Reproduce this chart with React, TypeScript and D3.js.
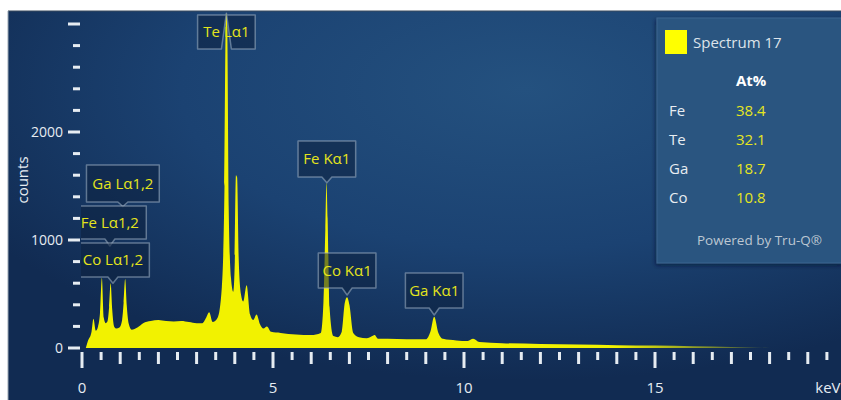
import React from "react";
import * as d3 from "d3";

// Spectrum samples: energy (keV) and detector counts
const energyKeV = [
  0.1, 0.15, 0.25, 0.3, 0.36, 0.42, 0.47, 0.52, 0.57, 0.62, 0.67, 0.71, 0.75, 0.79, 0.84, 0.9, 0.98,
  1.05, 1.09, 1.13, 1.17, 1.22, 1.3, 1.45, 1.6, 1.8, 2.0, 2.2, 2.4, 2.6, 2.8, 3.0, 3.15, 3.25,
  3.33, 3.42, 3.55, 3.66, 3.73, 3.77, 3.8, 3.84, 3.9, 3.96, 4.0, 4.03, 4.06, 4.1, 4.16, 4.22,
  4.31, 4.4, 4.48, 4.57, 4.66, 4.75, 4.84, 4.95, 5.2, 5.6, 6.0, 6.25, 6.32, 6.37, 6.4, 6.43,
  6.48, 6.58, 6.7, 6.8, 6.88, 6.94, 7.0, 7.1, 7.25, 7.45, 7.6, 7.66, 7.75, 8.0, 8.5, 9.0, 9.12,
  9.22, 9.33, 9.45, 9.8, 10.1, 10.24, 10.4, 11.0, 12.0, 13.0, 14.0, 15.0, 16.0, 17.0, 17.5, 18.0,
];
const counts = [
  0, 60, 150, 270, 160, 200, 320, 650, 280, 230, 250, 380, 600, 360, 200, 180, 190,
  260, 420, 640, 400, 230, 170, 190, 230, 250, 260, 250, 245, 250, 240, 230, 230, 280,
  330, 240, 280, 560, 1500, 3100, 3000, 1300, 650, 520, 800, 1600, 1580, 850, 500, 430,
  580, 310, 260, 310, 220, 180, 200, 150, 140, 125, 120, 140, 420, 1100, 1530, 1200,
  380, 110, 100, 150, 420, 470, 400, 140, 100, 90, 110, 120, 85, 85, 80, 80, 150,
  290, 140, 85, 70, 65, 85, 55, 45, 38, 32, 26, 22, 16, 9, 4, 0,
];

// Peak annotations
const peakNames = ["Te Lα1", "Fe Kα1", "Co Kα1", "Ga Kα1", "Ga Lα1,2", "Fe Lα1,2", "Co Lα1,2"];
const peakEnergies = [3.78, 6.41, 6.94, 9.22, 1.07, 0.73, 0.81];
const peakTipCounts = [3100, 1530, 470, 290, 1310, 930, 600];

// Quantification table
const elements = ["Fe", "Te", "Ga", "Co"];
const atomicPercent = ["38.4", "32.1", "18.7", "10.8"];

// Axis ticks
const yTickValues = d3.range(0, 3001, 200);
const yTickLabels = ["0", "1000", "2000"];
const xTickValues = d3.range(0, 19.51, 0.5);
const xTickLabels = ["0", "5", "10", "15"];

const W = 841;
const H = 400;
const FONT = "'Open Sans', 'DejaVu Sans', sans-serif";
const YELLOW = "#f2f200";
const TICK = "#e6ecf2";

// label box layout: top of box and its height
const labelTop = [15, 141, 253, 273, 165, 206, 243];
const labelHeight = [34, 36, 35, 35, 37, 33, 34];

export default function App() {
  const x = d3.scaleLinear().domain([0, 20]).range([82, 846]);
  const y = d3.scaleLinear().domain([0, 3000]).range([348, 24]);

  const points = energyKeV.map((e, i) => [e, counts[i]] as [number, number]);
  const area = d3
    .area<[number, number]>()
    .x((d) => x(d[0]))
    .y0(y(0))
    .y1((d) => y(d[1]))
    .curve(d3.curveMonotoneX);

  const textMeasure = (s: string) => s.length * 7.6 + 2;

  return (
    <svg
      width={W}
      height={H}
      style={{ position: "absolute", left: 0, top: 0, display: "block" }}
      fontFamily={FONT}
    >
      <defs>
        <radialGradient id="bg" cx="0.62" cy="0.2" r="0.75">
          <stop offset="0" stopColor="#24517f" />
          <stop offset="0.55" stopColor="#1b4272" />
          <stop offset="1" stopColor="#112b52" />
        </radialGradient>
        <linearGradient id="tail" gradientUnits="userSpaceOnUse" x1={x(14)} x2={x(18)} y1={0} y2={0}>
          <stop offset="0" stopColor={YELLOW} stopOpacity={1} />
          <stop offset="1" stopColor={YELLOW} stopOpacity={0.15} />
        </linearGradient>
        <clipPath id="plotClip">
          <rect x={81} y={12} width={W - 81} height={348 - 12 + 1} />
        </clipPath>
        <filter id="shadow" x="-10%" y="-10%" width="120%" height="120%">
          <feDropShadow dx="-1" dy="2" stdDeviation="2" floodColor="#06152b" floodOpacity="0.6" />
        </filter>
      </defs>

      <rect x={0} y={0} width={W} height={H} fill="#ffffff" />
      <rect x={8} y={11} width={W - 8} height={H - 11} fill="url(#bg)" />
      <line x1={8} y1={11} x2={W} y2={11} stroke="#3a4a5c" strokeWidth={1.2} />
      <line x1={8} y1={11} x2={8} y2={H} stroke="#9aa6b2" strokeWidth={1} />

      {/* spectrum */}
      <g clipPath="url(#plotClip)">
        <path d={area(points) ?? ""} fill="url(#tail)" />
      </g>

      {/* y axis ticks */}
      {yTickValues.map((v) => {
        const major = v % 1000 === 0;
        return (
          <line
            key={`yt${v}`}
            x1={major ? 68 : 73}
            x2={80}
            y1={y(v)}
            y2={y(v)}
            stroke={TICK}
            strokeWidth={3}
          />
        );
      })}
      {yTickLabels.map((t) => (
        <text
          key={`yl${t}`}
          x={63}
          y={y(+t)}
          dy="0.35em"
          textAnchor="end"
          fill={TICK}
          fontSize={14}
        >
          {t}
        </text>
      ))}
      <text
        transform={`translate(28,180) rotate(-90)`}
        textAnchor="middle"
        fill={TICK}
        fontSize={15}
      >
        counts
      </text>

      {/* x axis ticks */}
      {xTickValues.map((v) => {
        const five = Math.abs(v % 5) < 1e-6;
        const whole = Math.abs(v % 1) < 1e-6;
        const len = five ? 16 : whole ? 12 : 8;
        return (
          <line
            key={`xt${v}`}
            x1={x(v)}
            x2={x(v)}
            y1={352}
            y2={352 + len}
            stroke={TICK}
            strokeWidth={3}
          />
        );
      })}
      {xTickLabels.map((t) => (
        <text
          key={`xl${t}`}
          x={x(+t)}
          y={393}
          textAnchor="middle"
          fill={TICK}
          fontSize={15}
        >
          {t}
        </text>
      ))}
      <text x={x(19.5) + 1} y={393} textAnchor="middle" fill={TICK} fontSize={15}>
        keV
      </text>

      {/* peak labels */}
      <g clipPath="url(#plotClip)">
        {peakNames.map((name, i) => {
          const cx = x(peakEnergies[i]);
          const w = textMeasure(name) + 10;
          const top = labelTop[i];
          const h = labelHeight[i];
          const bottom = top + h;
          const tip = Math.min(y(peakTipCounts[i]), bottom + 7);
          const left = cx - w / 2;
          const right = cx + w / 2;
          const d = `M${left},${top} H${right} V${bottom} H${cx + 5} L${cx},${tip} L${cx - 5},${bottom} H${left} Z`;
          return (
            <g key={name}>
              <path
                d={d}
                fill="rgba(12,32,62,0.55)"
                stroke="rgba(160,178,196,0.55)"
                strokeWidth={1.5}
                strokeLinejoin="round"
              />
              <text
                x={cx}
                y={top + h / 2}
                dy="0.36em"
                textAnchor="middle"
                fill="#e4e41c"
                fontSize={15}
              >
                {name}
              </text>
            </g>
          );
        })}
      </g>

      {/* quantification panel */}
      <g filter="url(#shadow)">
        <rect x={657} y={18} width={W - 657 + 2} height={245} fill="#2a5580" stroke="#3d6690" strokeWidth={1} />
      </g>
      <rect x={665} y={30} width={22} height={24} fill="#ffff00" />
      <text x={693} y={48} fill="#dde3ea" fontSize={15}>
        Spectrum 17
      </text>
      <text x={736} y={86} fill="#ffffff" fontSize={15} fontWeight="bold">
        At%
      </text>
      {elements.map((el, i) => (
        <g key={el}>
          <text x={669} y={116 + i * 29} fill="#e8edf2" fontSize={15}>
            {el}
          </text>
          <text x={736} y={116 + i * 29} fill="#e6e61e" fontSize={15}>
            {atomicPercent[i]}
          </text>
        </g>
      ))}
      <text x={697} y={245} fill="#bcc7d2" fontSize={13.5}>
        Powered by Tru-Q®
      </text>
    </svg>
  );
}
